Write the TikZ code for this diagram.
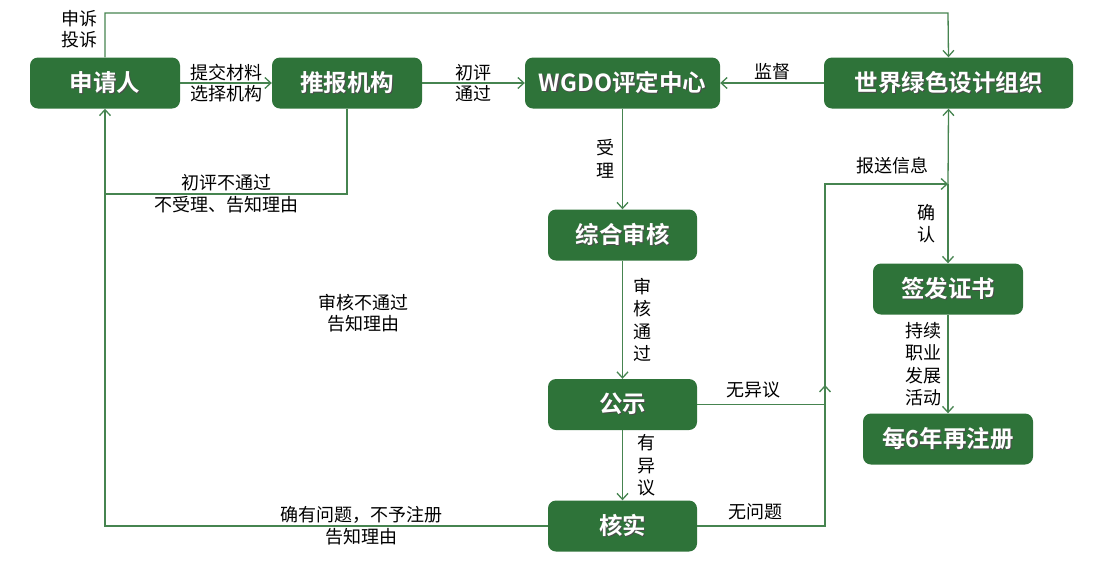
\documentclass[tikz,border=0pt]{standalone}
\usepackage{fontspec}
\setmainfont{Noto Sans CJK SC}[BoldFont={Noto Sans CJK SC Bold}]
\usepackage{tikz}
\usetikzlibrary{arrows.meta, positioning, calc}
\definecolor{boxgreen}{RGB}{46,115,57}
\definecolor{linegreen}{RGB}{70,132,80}
\newcommand{\shadowed}[1]{\makebox[0pt][l]{\hspace{1.2pt}\raisebox{-1.2pt}{\color{black!70}#1}}#1}

\begin{document}
\begin{tikzpicture}[x=1pt,y=-1pt,
    stage/.style={rectangle, rounded corners=8pt, fill=boxgreen, text=white, font=\bfseries\fontsize{23.5}{23.5}\selectfont, minimum width=149pt, minimum height=51pt, inner sep=0pt},
    lbl/.style={font=\fontsize{18}{21}\selectfont, align=center, inner sep=2pt},
    vlbl/.style={lbl, font=\fontsize{18}{22.5}\selectfont},
    link/.style={draw=linegreen, line width=1.3pt},
    flow/.style={link, -{Straight Barb[length=6pt,width=11pt]}}]

            \useasboundingbox (0,0) rectangle (1114,566);

            % 各个环节
            \node[stage, minimum width=150pt] (appl) at (105,83) {\shadowed{申请人}};
            \node[stage, minimum width=150pt] (rec) at (347,83) {\shadowed{推报机构}};
            \node[stage, minimum width=195pt] (wgdo) at (622.5,83) {\shadowed{WGDO评定中心}};
            \node[stage, minimum width=249pt] (world) at (948.5,83) {\shadowed{世界绿色设计组织}};
            \node[stage] (review) at (622.5,235) {\shadowed{综合审核}};
            \node[stage] (notice) at (622.5,404.5) {\shadowed{公示}};
            \node[stage] (verify) at (622.5,526) {\shadowed{核实}};
            \node[stage, minimum width=150pt] (cert) at (948,289) {\shadowed{签发证书}};
            \node[stage, minimum width=170pt] (renew) at (948,439) {\shadowed{每6年再注册}};

            % 转折点
            \coordinate (corner) at (948,13);
            \coordinate (bend) at (825,184);
            \coordinate (junc) at (948,184);
            \coordinate (uptip) at (825,385);

            % 上面一行
            \draw[flow] (appl.north) |- (corner) -- (world.north);
            \node[lbl] (lappeal) at (79,29) {申诉\\投诉};
            \draw[flow] (appl) -- (rec) node[lbl, midway] (lsubmit) {提交材料\\选择机构};
            \draw[flow] (rec) -- (wgdo) node[lbl, midway] (lpass) {初评\\通过};
            \draw[flow] (world) -- (wgdo) node[lbl, midway, above=0pt] (lsuper) {监督};

            % 退回申请人
            \draw[link] (rec.south) |- (105,194) node[lbl, pos=0.75, font=\fontsize{18}{22}\selectfont] (lfail) {初评不通过\\不受理、告知理由};
            \draw[flow] (verify.west) -| (appl.south) node[lbl, pos=0.21, font=\fontsize{18}{22}\selectfont] (lreject) {确有问题，不予注册\\告知理由};
            \node[lbl] (lnopass) at (363,313.5) {审核不通过\\告知理由};

            % 中间一列
            \draw[flow] (wgdo) -- (review) node[vlbl, midway, left=5pt] (laccept) {受\\理};
            \draw[flow] (review) -- (notice) node[vlbl, midway, right=8pt] (lok) {审\\核\\通\\过};
            \draw[flow] (notice) -- (verify) node[vlbl, midway, right=12pt] (lobj) {有\\异\\议};

            % 报送世界绿色设计组织
            \draw[flow] (notice.east) -| (bend) node[lbl, pos=0.22, above=4pt] (lnoobj) {无异议} -- (junc) node[lbl, pos=0.55, above=7pt] (lreport) {报送信息};
            \draw[flow] (verify.east) -| (uptip) node[lbl, pos=0.23, above=3pt] (lnoissue) {无问题};
            \draw[flow] (junc) -- (world.south);
            \draw[flow] (junc) -- (cert) node[vlbl, midway, left=10pt] (lconfirm) {确\\认};
            \draw[flow] (cert) -- (renew) node[vlbl, midway, left=4pt] (lcpd) {持续\\职业\\发展\\活动};

\end{tikzpicture}
\end{document}
